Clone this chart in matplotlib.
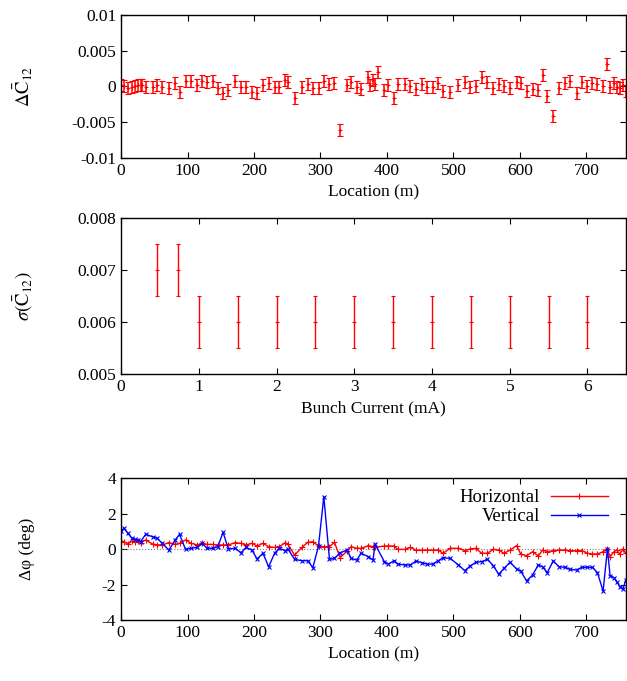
import matplotlib
matplotlib.use("Agg")
import matplotlib.pyplot as plt
import numpy as np

plt.rcParams['font.family'] = ['Liberation Serif', 'DejaVu Serif']
plt.rcParams['mathtext.fontset'] = 'stix'
plt.rcParams['axes.unicode_minus'] = False

# --- top panel: Delta C12 vs location ---
loc_c = [0, 4.5, 10.5, 16.5, 21.5, 25.5, 29.5, 31.5, 37, 47.5, 54.5, 62, 72, 81.5, 88,
         97, 105.5, 114.5, 122, 129.5, 138, 145.5, 153.5, 161.5, 171.5, 180.5, 188, 197,
         204.5, 213.5, 222, 231, 238, 247, 251, 261, 272, 281, 288.5, 297, 305, 313.5,
         321, 329.5, 340, 346, 354.5, 361, 372, 375, 379, 382, 386, 396, 402, 411, 416,
         427, 435, 443.5, 452, 460, 468.5, 477, 484.5, 495, 507.5, 517, 525, 533.5, 542.5,
         551, 560, 568, 576, 585, 595, 601, 610, 619, 627.5, 634, 641, 650, 659, 668, 675,
         685, 693, 701.5, 709, 716.5, 725, 731.5, 735.5, 741.5, 745.5, 750, 755, 759]
dc = [0.21, 0.07, -0.26, -0.02, 0.07, 0.16, 0.16, 0.21, -0.02, -0.02, 0.21, -0.12, -0.26,
      0.44, -0.72, 0.77, 0.77, 0.21, 0.77, 0.58, 0.82, -0.26, -0.96, -0.49, 0.77, -0.02,
      -0.02, -0.72, -0.86, 0.21, 0.54, -0.12, -0.02, 0.91, 0.68, -1.66, -0.12, 0.30, -0.26,
      -0.26, 0.77, 0.30, 0.54, -6.09, 0.21, 0.68, -0.02, -0.35, 1.3, 0.2, 0.9, 0.35, 2.05,
      -0.49, 0.21, -1.66, 0.35, 0.35, 0.07, -0.40, 0.35, -0.12, -0.12, 0.54, -0.58, -0.72,
      0.21, 0.58, -0.12, 0.07, 1.38, 0.58, -0.26, 0.30, 0.07, -0.16, 0.58, 0.44, -0.58,
      -0.40, -0.49, 1.61, -1.33, -4.13, -0.26, 0.44, 0.82, -0.86, 0.58, 0.07, 0.44, 0.30,
      0.07, 3.15, -0.02, 0.44, -0.02, -0.26, 0.21, -0.58]
dc = np.array(dc) * 1e-3
dc_err = 0.00085

# --- middle panel: sigma(C12) vs bunch current ---
current = [0.46, 0.73, 1, 1.5, 2, 2.5, 3, 3.5, 4, 4.5, 5, 5.5, 6]
sigma_c = [0.007, 0.007, 0.006, 0.006, 0.006, 0.006, 0.006, 0.006, 0.006, 0.006, 0.006, 0.006, 0.006]
sigma_err = 0.0005

# --- bottom panel: phase advance error ---
loc_p = [0, 4.5, 10.5, 16.5, 21.5, 25.5, 29.5, 37, 47.5, 54.5, 62, 72, 81.5, 88, 97, 105.5,
         114.5, 122, 129.5, 138, 145.5, 153.5, 161.5, 171.5, 180.5, 188, 197, 204.5, 213.5,
         222, 231, 238, 247, 251,
         261, 272, 281, 288.5, 297, 305, 313.5, 321, 329.5, 340, 346, 354.5, 361, 372, 379,
         382, 396, 402, 411, 416, 427, 435, 443.5, 452, 460, 468.5, 477, 484.5, 495, 507.5,
         517, 525, 533.5, 542.5, 551, 560, 568, 576, 585, 595, 601, 610, 619, 627.5, 634,
         641, 650, 659, 668, 675, 685, 693, 701.5, 709, 716.5, 725, 731.5, 735.5, 741.5,
         745.5, 750, 755, 759]
dphi_h = [0.47, 0.41, 0.28, 0.45, 0.38, 0.47, 0.36, 0.51, 0.28, 0.23, 0.23, 0.36, 0.26, 0.32,
          0.51, 0.32, 0.23, 0.32, 0.26, 0.26, 0.23, 0.23, 0.23, 0.36, 0.32, 0.23, 0.32, 0.17,
          0.32, 0.13, 0.09, 0.13, 0.36, 0.26,
          -0.34, 0.09, 0.38, 0.41, 0.17, 0.13, 0.13, 0.38, -0.49, -0.11, 0.13, 0.04, 0.04,
          0.19, 0.13, 0.09, 0.17, 0.17, 0.17, -0.02, -0.02, 0.09, -0.06, -0.06, -0.06, -0.06,
          -0.06, -0.24, 0.04, 0.04,
          -0.09, 0.0, 0.04, -0.24, -0.24, -0.02, -0.06, -0.24, -0.06, 0.19, -0.28, -0.38,
          -0.15, -0.39, -0.06, -0.15, -0.09, -0.06, -0.06, -0.09, -0.09, -0.09, -0.24, -0.28,
          -0.28, -0.15, 0.0, -0.43, -0.15, -0.06, -0.28, 0.0, -0.24]
dphi_v = [1.03, 1.16, 0.88, 0.60, 0.54, 0.51, 0.41, 0.83, 0.69, 0.60, 0.32, -0.06, 0.51, 0.83,
          -0.02, 0.04, 0.09, 0.32, 0.04, 0.04, 0.13, 0.94, 0.0, 0.04, -0.21, 0.09, -0.06,
          -0.56, -0.24, -1.0, -0.24, 0.04, -0.09, 0.0,
          -0.58, -0.66, -0.66, -1.05, 0.17, 2.95, -0.58, -0.53, -0.21, -0.06, -0.53, -0.62,
          -0.24, -0.43, -0.62, 0.28, -0.71, -0.85, -0.66, -0.85, -0.90, -0.90, -0.68, -0.77,
          -0.85, -0.85, -0.66, -0.49, -0.53, -0.90,
          -1.22, -0.96, -0.75, -0.71, -0.58, -0.94, -1.43, -1.09, -0.75, -1.13, -1.24, -1.80,
          -1.46, -0.90, -1.0, -1.33, -0.68, -1.0, -1.03, -1.15, -1.18, -1.03, -1.03, -1.03,
          -1.33, -2.37, 0.0, -1.5, -1.62, -1.84, -2.12, -2.25, -1.75]

fig = plt.figure(figsize=(6.27, 6.81), dpi=100)
ax1 = fig.add_axes([0.193, 0.768, 0.806, 0.21])
ax2 = fig.add_axes([0.193, 0.451, 0.806, 0.229])
ax3 = fig.add_axes([0.193, 0.0896, 0.806, 0.2084])

fs = 12.5
for ax in (ax1, ax2, ax3):
    ax.tick_params(direction='in', top=True, right=True, labelsize=fs, length=4)
    for s in ax.spines.values():
        s.set_linewidth(1.0)

# top
ax1.errorbar(loc_c, dc, yerr=dc_err, fmt='+', color='red', ms=3, mew=0.8,
             elinewidth=1.1, capsize=2, capthick=1.1)
ax1.set_xlim(0, 760)
ax1.set_ylim(-0.01, 0.01)
ax1.set_yticks([-0.01, -0.005, 0, 0.005, 0.01])
ax1.set_yticklabels(['-0.01', '-0.005', '0', '0.005', '0.01'])
ax1.set_xticks(range(0, 800, 100))
ax1.set_xlabel('Location (m)', fontsize=fs)
ax1.set_ylabel(r'$\Delta\bar{\mathrm{C}}_{12}$', fontsize=fs + 1)
ax1.yaxis.set_label_coords(-0.17, 0.5)

# middle
ax2.errorbar(current, sigma_c, yerr=sigma_err, fmt='+', color='red', ms=3, mew=0.8,
             elinewidth=1.0, capsize=1.5, capthick=1.0)
ax2.set_xlim(0, 6.5)
ax2.set_ylim(0.005, 0.008)
ax2.set_yticks([0.005, 0.006, 0.007, 0.008])
ax2.set_yticklabels(['0.005', '0.006', '0.007', '0.008'])
ax2.set_xticks(range(0, 7))
ax2.set_xlabel('Bunch Current (mA)', fontsize=fs)
ax2.set_ylabel(r'$\sigma(\bar{\mathrm{C}}_{12})$', fontsize=fs + 1)
ax2.yaxis.set_label_coords(-0.17, 0.5)

# bottom
ax3.axhline(0, color='gray', ls=':', lw=0.8)
ax3.plot(loc_p, dphi_h, color='red', marker='+', ms=4, mew=0.8, lw=1.0, label='Horizontal')
ax3.plot(loc_p, dphi_v, color='blue', marker='x', ms=3.5, mew=0.8, lw=1.0, label='Vertical')
ax3.set_xlim(0, 760)
ax3.set_ylim(-4, 4)
ax3.set_yticks([-4, -2, 0, 2, 4])
ax3.set_xticks(range(0, 800, 100))
ax3.set_xlabel('Location (m)', fontsize=fs)
ax3.set_ylabel('Δφ (deg)', fontsize=fs)
ax3.yaxis.set_label_coords(-0.17, 0.5)
ax3.legend(loc='upper right', bbox_to_anchor=(0.985, 1.0), frameon=False, markerfirst=False,
           fontsize=fs + 1, handlelength=3.0, borderaxespad=0.2, labelspacing=0.1,
           handletextpad=0.6)

fig.savefig('out.png', dpi=100)
